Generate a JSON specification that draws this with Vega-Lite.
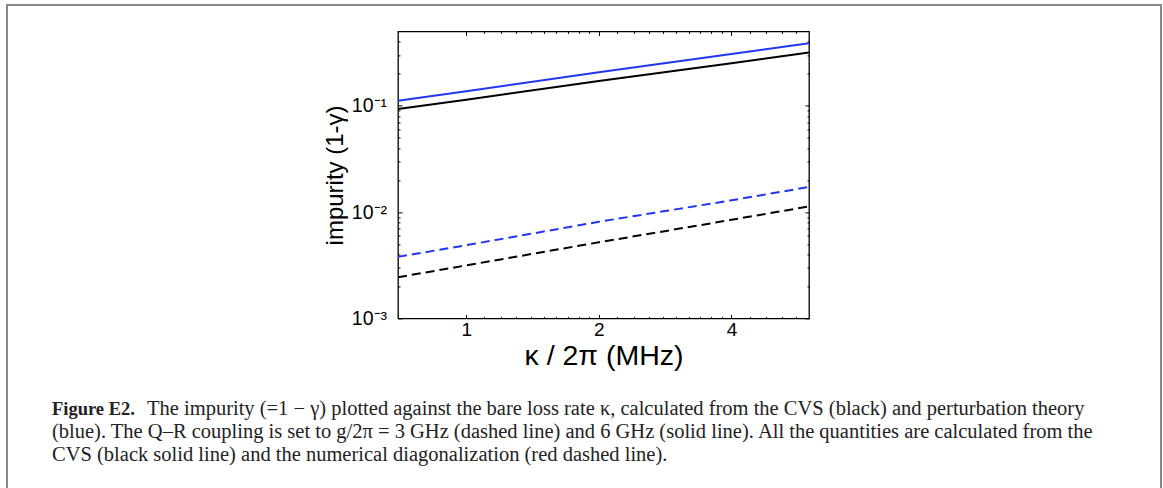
{
  "$schema": "https://vega.github.io/schema/vega-lite/v6.json",
  "padding": {"left": 6, "top": 4, "right": 0, "bottom": 0},
  "background": "white",
  "datasets": {
    "curves": [
      {"kappa": 0.7, "impurity": 0.1115, "method": "perturbation", "g": "6 GHz"},
      {"kappa": 1, "impurity": 0.137, "method": "perturbation", "g": "6 GHz"},
      {"kappa": 2, "impurity": 0.206, "method": "perturbation", "g": "6 GHz"},
      {"kappa": 4, "impurity": 0.306, "method": "perturbation", "g": "6 GHz"},
      {"kappa": 6, "impurity": 0.387, "method": "perturbation", "g": "6 GHz"},
      {"kappa": 0.7, "impurity": 0.093, "method": "CVS", "g": "6 GHz"},
      {"kappa": 1, "impurity": 0.114, "method": "CVS", "g": "6 GHz"},
      {"kappa": 2, "impurity": 0.171, "method": "CVS", "g": "6 GHz"},
      {"kappa": 4, "impurity": 0.251, "method": "CVS", "g": "6 GHz"},
      {"kappa": 6, "impurity": 0.316, "method": "CVS", "g": "6 GHz"},
      {"kappa": 0.7, "impurity": 0.00379, "method": "perturbation", "g": "3 GHz"},
      {"kappa": 1, "impurity": 0.00488, "method": "perturbation", "g": "3 GHz"},
      {"kappa": 2, "impurity": 0.0081, "method": "perturbation", "g": "3 GHz"},
      {"kappa": 4, "impurity": 0.0129, "method": "perturbation", "g": "3 GHz"},
      {"kappa": 6, "impurity": 0.0172, "method": "perturbation", "g": "3 GHz"},
      {"kappa": 0.7, "impurity": 0.00244, "method": "CVS", "g": "3 GHz"},
      {"kappa": 1, "impurity": 0.00315, "method": "CVS", "g": "3 GHz"},
      {"kappa": 2, "impurity": 0.0052, "method": "CVS", "g": "3 GHz"},
      {"kappa": 4, "impurity": 0.00845, "method": "CVS", "g": "3 GHz"},
      {"kappa": 6, "impurity": 0.0113, "method": "CVS", "g": "3 GHz"}
    ],
    "caption": [
      {"line": 1, "text": "The impurity (=1 − γ) plotted against the bare loss rate κ, calculated from the CVS (black) and perturbation theory"},
      {"line": 2, "text": "(blue). The Q–R coupling is set to g/2π = 3 GHz (dashed line) and 6 GHz (solid line). All the quantities are calculated from the"},
      {"line": 3, "text": "CVS (black solid line) and the numerical diagonalization (red dashed line)."}
    ],
    "label": [{"line": 1, "text": "Figure E2."}]
  },
  "spacing": 0,
  "hconcat": [
    {
      "width": 2,
      "height": 484,
      "view": {"stroke": null, "fill": "#888888"},
      "data": {"values": []},
      "mark": "point"
    },
    {
      "spacing": 23.4,
      "vconcat": [
        {
          "width": 1152,
          "height": 2,
          "view": {"stroke": null, "fill": "#888888"},
          "data": {"values": []},
          "mark": "point"
        },
        {
          "spacing": 0,
          "vconcat": [
            {
              "spacing": 0,
              "hconcat": [
                {
                  "width": 314,
                  "height": 1,
                  "view": {"stroke": null},
                  "data": {"values": []},
                  "mark": "point"
                },
                {
                  "width": 411,
                  "height": 287,
                  "view": {"stroke": "black", "strokeWidth": 1.3},
                  "data": {"name": "curves"},
                  "resolve": {"axis": {"x": "independent", "y": "independent"}},
                  "layer": [
                    {
                      "transform": [{"filter": "datum.method == 'perturbation' && datum.g == '6 GHz'"}],
                      "mark": {"type": "line", "strokeWidth": 2, "color": "#2236f2"},
                      "encoding": {
                        "x": {"field": "kappa", "type": "quantitative", "scale": {"type": "log", "domain": [0.7, 6]},
                          "axis": {"orient": "bottom", "values": [1, 2, 4], "domain": false, "tickSize": -4, "tickColor": "black", "labelPadding": 6, "labelFontSize": 19, "labelColor": "black", "labelFont": "Liberation Sans", "title": "κ / 2π (MHz)", "titleFontSize": 28.5, "titleFontWeight": "normal", "titleFont": "Liberation Sans", "titleColor": "black", "titlePadding": 2.5, "grid": false}},
                        "y": {"field": "impurity", "type": "quantitative", "scale": {"type": "log", "domain": [0.001, 0.5]},
                          "axis": {"orient": "left", "values": [0.001, 0.01, 0.1], "labelExpr": "datum.value < 0.005 ? '10⁻³' : datum.value < 0.05 ? '10⁻²' : '10⁻¹'", "domain": false, "tickSize": -4, "tickColor": "black", "labelPadding": 15.5, "labelFontSize": 19.5, "labelColor": "black", "labelFont": "Liberation Sans", "title": "impurity (1-γ)", "titleFontSize": 24, "titleFontWeight": "normal", "titleFont": "Liberation Sans", "titleColor": "black", "titlePadding": 4, "grid": false}}
                      }
                    },
                    {
                      "transform": [{"filter": "datum.method == 'CVS' && datum.g == '6 GHz'"}],
                      "mark": {"type": "line", "strokeWidth": 2, "color": "black"},
                      "encoding": {
                        "x": {"field": "kappa", "type": "quantitative", "scale": {"type": "log", "domain": [0.7, 6]},
                          "axis": {"orient": "top", "values": [1, 2, 4], "domain": false, "labels": false, "tickSize": -4, "tickColor": "black", "title": null, "grid": false}},
                        "y": {"field": "impurity", "type": "quantitative", "scale": {"type": "log", "domain": [0.001, 0.5]},
                          "axis": {"orient": "right", "values": [0.001, 0.01, 0.1], "domain": false, "labels": false, "tickSize": -4, "tickColor": "black", "title": null, "grid": false}}
                      }
                    },
                    {
                      "transform": [{"filter": "datum.method == 'perturbation' && datum.g == '3 GHz'"}],
                      "mark": {"type": "line", "strokeWidth": 2, "color": "#2236f2", "strokeDash": [9, 5]},
                      "encoding": {
                        "x": {"field": "kappa", "type": "quantitative", "scale": {"type": "log", "domain": [0.7, 6]},
                          "axis": {"orient": "bottom", "values": [1.1, 1.2, 1.3, 1.4, 1.5, 1.6, 1.7, 1.8, 1.9, 2.2, 2.4, 2.6, 2.8, 3.0, 3.2, 3.4, 3.6, 3.8, 4.4, 4.8, 5.2, 5.6], "domain": false, "labels": false, "tickSize": -2, "tickColor": "black", "title": null, "grid": false}},
                        "y": {"field": "impurity", "type": "quantitative", "scale": {"type": "log", "domain": [0.001, 0.5]},
                          "axis": {"orient": "left", "values": [0.002, 0.003, 0.004, 0.005, 0.006, 0.007, 0.008, 0.009, 0.02, 0.03, 0.04, 0.05, 0.06, 0.07, 0.08, 0.09, 0.2, 0.3, 0.4], "domain": false, "labels": false, "tickSize": -2, "tickColor": "black", "title": null, "grid": false}}
                      }
                    },
                    {
                      "transform": [{"filter": "datum.method == 'CVS' && datum.g == '3 GHz'"}],
                      "mark": {"type": "line", "strokeWidth": 2, "color": "black", "strokeDash": [9, 5]},
                      "encoding": {
                        "x": {"field": "kappa", "type": "quantitative", "scale": {"type": "log", "domain": [0.7, 6]},
                          "axis": {"orient": "top", "values": [1.1, 1.2, 1.3, 1.4, 1.5, 1.6, 1.7, 1.8, 1.9, 2.2, 2.4, 2.6, 2.8, 3.0, 3.2, 3.4, 3.6, 3.8, 4.4, 4.8, 5.2, 5.6], "domain": false, "labels": false, "tickSize": -2, "tickColor": "black", "title": null, "grid": false}},
                        "y": {"field": "impurity", "type": "quantitative", "scale": {"type": "log", "domain": [0.001, 0.5]},
                          "axis": {"orient": "right", "values": [0.002, 0.003, 0.004, 0.005, 0.006, 0.007, 0.008, 0.009, 0.02, 0.03, 0.04, 0.05, 0.06, 0.07, 0.08, 0.09, 0.2, 0.3, 0.4], "domain": false, "labels": false, "tickSize": -2, "tickColor": "black", "title": null, "grid": false}}
                      }
                    }
                  ]
                }
              ]
            },
            {
              "width": 1152,
              "height": 100,
              "view": {"stroke": null},
              "layer": [
                {
                  "data": {"name": "label"},
                  "mark": {"type": "text", "align": "left", "baseline": "alphabetic", "font": "Liberation Serif", "fontSize": 18.5, "fontWeight": "bold", "color": "#222222"},
                  "encoding": {
                    "x": {"datum": 0, "type": "quantitative", "scale": {"domain": [-44, 1108]}, "axis": null},
                    "y": {"field": "line", "type": "quantitative", "scale": {"domain": [-0.93, 3.456], "reverse": true, "zero": false}, "axis": null},
                    "text": {"field": "text"}
                  }
                },
                {
                  "data": {"name": "caption"},
                  "transform": [{"filter": "datum.line == 1"}],
                  "mark": {"type": "text", "align": "left", "baseline": "alphabetic", "font": "Liberation Serif", "fontSize": 20.5, "color": "#222222"},
                  "encoding": {
                    "x": {"datum": 95, "type": "quantitative", "scale": {"domain": [-44, 1108]}, "axis": null},
                    "y": {"field": "line", "type": "quantitative", "scale": {"domain": [-0.93, 3.456], "reverse": true, "zero": false}, "axis": null},
                    "text": {"field": "text"}
                  }
                },
                {
                  "data": {"name": "caption"},
                  "transform": [{"filter": "datum.line > 1"}],
                  "mark": {"type": "text", "align": "left", "baseline": "alphabetic", "font": "Liberation Serif", "fontSize": 20.5, "color": "#222222"},
                  "encoding": {
                    "x": {"datum": 0, "type": "quantitative", "scale": {"domain": [-44, 1108]}, "axis": null},
                    "y": {"field": "line", "type": "quantitative", "scale": {"domain": [-0.93, 3.456], "reverse": true, "zero": false}, "axis": null},
                    "text": {"field": "text"}
                  }
                }
              ]
            }
          ]
        }
      ]
    },
    {
      "width": 2,
      "height": 484,
      "view": {"stroke": null, "fill": "#888888"},
      "data": {"values": []},
      "mark": "point"
    }
  ],
  "config": {
    "font": "Liberation Sans",
    "view": {"stroke": null}
  }
}
